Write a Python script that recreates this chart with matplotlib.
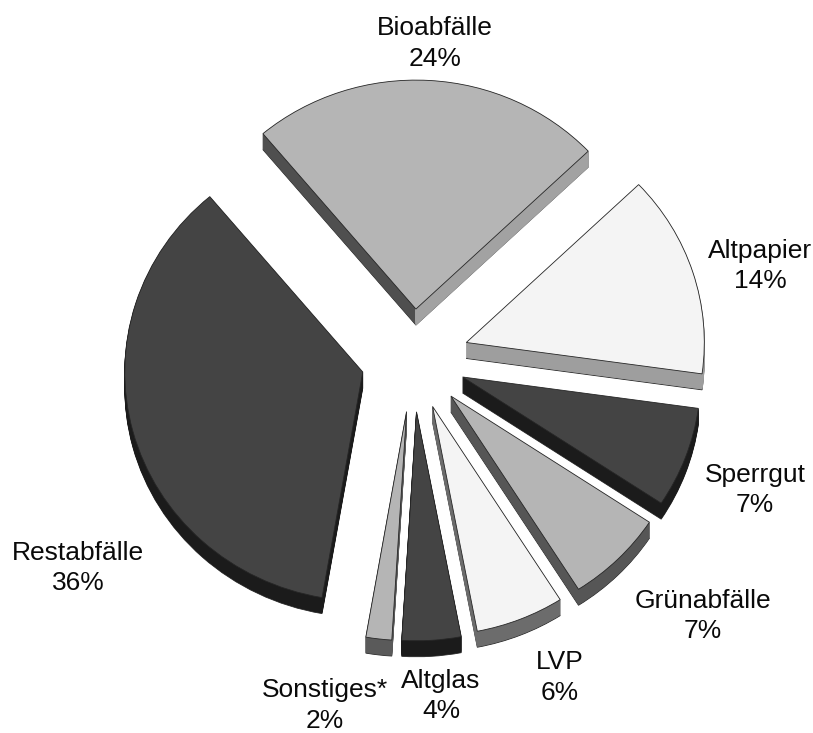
import matplotlib
matplotlib.use("Agg")
import matplotlib.pyplot as plt

categories = ["Bioabfälle", "Altpapier", "Sperrgut", "Grünabfälle", "LVP", "Altglas", "Sonstiges*", "Restabfälle"]
shares = [24, 14.3, 7.1, 6.7, 6.0, 4.0, 1.75, 36.15]
explode = [52, 56, 53, 54, 53, 55, 55, 52]   # same units as the axes (pixels)
top_colors = ["#b5b5b5", "#f4f4f4", "#444444", "#b5b5b5", "#f4f4f4", "#444444", "#b5b5b5", "#444444"]
side_colors = ["#4f4f4f", "#9e9e9e", "#1b1b1b", "#565656", "#6c6c6c", "#1b1b1b", "#5a5a5a", "#1b1b1b"]
bio_right_side = "#a2a2a2"

# label centres in pixels of the 813x733 image
label_x = [435, 760, 755, 703, 560, 441, 325, 78]
label_y = [28, 251, 475, 601, 662, 681, 690, 553]

W, H = 813, 733
SQUASH = 0.962   # pie is slightly flattened
DEPTH = 16
CX, CY = 413, (H - 359) / SQUASH
R = 238
START = 130

plt.rcParams['font.family'] = ['Liberation Sans', 'DejaVu Sans']
fig = plt.figure(figsize=(W / 100, H / 100), dpi=100)
ax = fig.add_axes([0, 0, 1, 1])


def draw_pie(dy, colors, edge=None, lw=0.6):
    wedges, _ = ax.pie(shares, explode=explode, center=(CX, CY - dy / SQUASH), radius=R,
                       colors=colors, startangle=START, counterclock=False,
                       wedgeprops=dict(linewidth=lw))
    for w in wedges:
        w.set_edgecolor(edge if edge else w.get_facecolor())
    return wedges


# extruded walls, bottom layer first
for i, dy in enumerate(range(DEPTH, 0, -1)):
    edge_col = "#2a2a2a" if i == 0 else None
    draw_pie(dy, side_colors, edge=edge_col)

# right wall of the top slice is lighter than its left wall,
# so repeat only the part of that slice right of its apex
for i, dy in enumerate(range(DEPTH, 0, -1)):
    lit = draw_pie(dy, side_colors)
    for k, w in enumerate(lit):
        if k == 0:
            w.set_theta2(90)
            w.set_facecolor(bio_right_side)
            w.set_edgecolor(bio_right_side)
        else:
            w.remove()

top = draw_pie(0, top_colors, edge="#262626")

ax.set_aspect("auto")
ax.set_xlim(0, W)
ax.set_ylim(0, H / SQUASH)
ax.axis("off")

for name, share, x, y in zip(categories, shares, label_x, label_y):
    fig.text(x / W, 1 - y / H, name, ha="center", va="center", fontsize=19, color="#0a0a0a")
    fig.text(x / W, 1 - (y + 30.5) / H, f"{share:.0f}%", ha="center", va="center", fontsize=19, color="#0a0a0a")

fig.savefig("out.png", dpi=100, facecolor="white")
